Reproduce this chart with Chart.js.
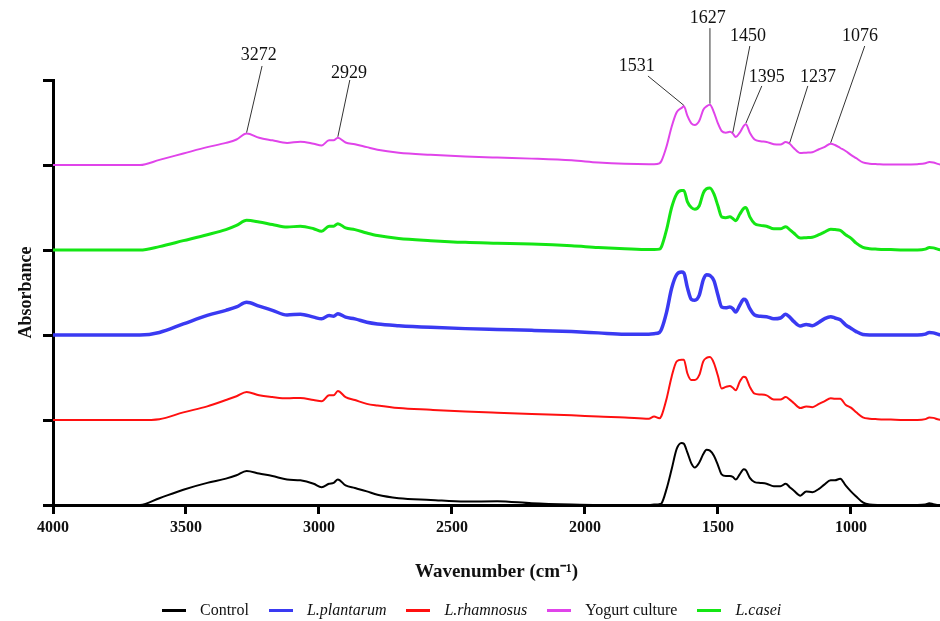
<!DOCTYPE html>
<html>
<head>
<meta charset="utf-8">
<script src="https://cdn.jsdelivr.net/npm/chart.js"></script>
<style>
  body { margin: 0; background: #fff; }
  #wrap { position: relative; width: 940px; height: 621px; }
  #legend {
    position: absolute; left: 162px; top: 600px; height: 20px;
    display: flex; align-items: center;
    font-family: "Liberation Serif", serif; font-size: 16px; color: #111;
  }
  #legend .item { display: flex; align-items: center; margin-right: 20px; }
  #legend .sw { display: inline-block; width: 24px; height: 3px; margin-right: 14px; }
  #legend i { font-style: italic; }
</style>
</head>
<body>
<div id="wrap">
  <canvas id="ftir" width="940" height="621"></canvas>
  <div id="legend"></div>
</div>
<script>
"use strict";

// wavenumbers (cm-1), shared by all spectra
var wavenumbers = [4000, 3800, 3673, 3600, 3510, 3420, 3350, 3310, 3272, 3225,
  3175, 3120, 3070, 3020, 2990, 2962, 2945, 2929, 2900, 2865,
  2820, 2780, 2700, 2580, 2450, 2330, 2200, 2050, 1950, 1850,
  1760, 1740, 1720, 1712, 1693, 1674, 1655, 1637, 1628, 1615,
  1600, 1587, 1570, 1555, 1543, 1530, 1515, 1500, 1486, 1470,
  1455, 1444, 1433, 1418, 1403, 1395, 1380, 1362, 1340, 1317,
  1290, 1265, 1245, 1230, 1215, 1190, 1168, 1145, 1120, 1100,
  1076, 1060, 1040, 1020, 1000, 980, 955, 930, 900, 850,
  800, 750, 720, 705, 690, 670, 650];

var xTicks = [4000, 3500, 3000, 2500, 2000, 1500, 1000];

// absorbance of each sample (before stacking)
var control = [0, 0, 0, 0.08, 0.18, 0.26, 0.31, 0.35, 0.40, 0.37,
  0.34, 0.30, 0.29, 0.25, 0.21, 0.25, 0.26, 0.30, 0.23, 0.20,
  0.16, 0.12, 0.08, 0.06, 0.04, 0.045, 0.02, 0.005, 0, 0,
  0, 0.005, 0.01, 0.02, 0.19, 0.42, 0.66, 0.73, 0.72, 0.62,
  0.49, 0.44, 0.50, 0.60, 0.65, 0.64, 0.58, 0.47, 0.36, 0.34,
  0.34, 0.33, 0.30, 0.36, 0.42, 0.41, 0.32, 0.27, 0.26, 0.25,
  0.22, 0.22, 0.25, 0.21, 0.17, 0.11, 0.16, 0.15, 0.19, 0.24,
  0.29, 0.29, 0.31, 0.23, 0.16, 0.10, 0.03, 0.005, 0, 0,
  0, 0, 0.005, 0.02, 0.01, 0, 0];

var rhamnosus = [0, 0, 0, 0.01, 0.09, 0.16, 0.235, 0.28, 0.33, 0.29,
  0.27, 0.255, 0.26, 0.235, 0.22, 0.29, 0.29, 0.34, 0.27, 0.235,
  0.19, 0.17, 0.14, 0.12, 0.10, 0.085, 0.07, 0.055, 0.04, 0.03,
  0.015, 0.04, 0.02, 0.05, 0.25, 0.51, 0.69, 0.71, 0.71, 0.55,
  0.47, 0.47, 0.53, 0.69, 0.73, 0.74, 0.67, 0.52, 0.37, 0.39,
  0.40, 0.38, 0.35, 0.45, 0.51, 0.50, 0.39, 0.31, 0.30, 0.29,
  0.24, 0.24, 0.27, 0.24, 0.20, 0.14, 0.16, 0.15, 0.19, 0.22,
  0.255, 0.25, 0.25, 0.18, 0.145, 0.09, 0.03, 0.015, 0.01, 0.005,
  0, 0, 0.01, 0.03, 0.025, 0.005, 0];

var plantarum = [0, 0, 0, 0.03, 0.13, 0.23, 0.29, 0.33, 0.385, 0.34,
  0.29, 0.235, 0.245, 0.21, 0.19, 0.23, 0.22, 0.25, 0.21, 0.19,
  0.15, 0.13, 0.11, 0.09, 0.075, 0.065, 0.055, 0.04, 0.025, 0.01,
  0.01, 0.015, 0.03, 0.07, 0.27, 0.55, 0.71, 0.74, 0.73, 0.56,
  0.42, 0.41, 0.47, 0.65, 0.71, 0.70, 0.64, 0.47, 0.33, 0.32,
  0.33, 0.31, 0.27, 0.35, 0.42, 0.41, 0.31, 0.235, 0.22, 0.215,
  0.19, 0.20, 0.245, 0.21, 0.16, 0.105, 0.125, 0.11, 0.15, 0.19,
  0.215, 0.20, 0.18, 0.12, 0.08, 0.04, 0.005, 0, 0, 0,
  0, 0, 0.01, 0.03, 0.025, 0.005, 0];

var casei = [0, 0, 0, 0.04, 0.11, 0.18, 0.24, 0.29, 0.35, 0.33,
  0.30, 0.27, 0.28, 0.25, 0.22, 0.28, 0.28, 0.31, 0.26, 0.24,
  0.20, 0.17, 0.135, 0.11, 0.09, 0.08, 0.07, 0.05, 0.03, 0.015,
  0.005, 0.005, 0.01, 0.04, 0.24, 0.50, 0.66, 0.70, 0.70, 0.57,
  0.50, 0.48, 0.52, 0.67, 0.72, 0.73, 0.66, 0.52, 0.39, 0.38,
  0.39, 0.37, 0.345, 0.42, 0.49, 0.50, 0.39, 0.31, 0.29, 0.28,
  0.25, 0.25, 0.275, 0.24, 0.20, 0.14, 0.145, 0.15, 0.18, 0.21,
  0.245, 0.24, 0.23, 0.18, 0.14, 0.08, 0.03, 0.015, 0.01, 0.005,
  0, 0, 0.01, 0.03, 0.025, 0.005, 0];

var yogurt = [0, 0, 0, 0.06, 0.135, 0.21, 0.26, 0.30, 0.37, 0.32,
  0.29, 0.26, 0.275, 0.25, 0.23, 0.29, 0.29, 0.32, 0.265, 0.245,
  0.21, 0.18, 0.145, 0.12, 0.10, 0.087, 0.075, 0.055, 0.03, 0.015,
  0.01, 0.01, 0.02, 0.05, 0.22, 0.45, 0.62, 0.67, 0.69, 0.58,
  0.49, 0.47, 0.52, 0.65, 0.69, 0.71, 0.62, 0.49, 0.40, 0.38,
  0.39, 0.37, 0.33, 0.38, 0.46, 0.48, 0.38, 0.30, 0.28, 0.27,
  0.245, 0.24, 0.27, 0.25, 0.20, 0.14, 0.145, 0.15, 0.185, 0.21,
  0.25, 0.235, 0.20, 0.165, 0.12, 0.08, 0.03, 0.015, 0.01, 0.005,
  0.005, 0.01, 0.02, 0.035, 0.03, 0.01, 0];

// peaks marked on the yogurt culture spectrum
var peakLabels = ["3272", "2929", "1531", "1627", "1450", "1395", "1237", "1076"];
var peakTargets = [3272, 2929, 1628, 1530, 1444, 1395, 1230, 1076];

// where each label sits (wavenumber, absorbance level) and where its leader line starts
var labelAt = [[3226, 5.29], [2887, 5.08], [1805, 5.165], [1538, 5.73],
  [1387, 5.52], [1316, 5.035], [1124, 5.035], [966, 5.52]];
var lineFrom = [[3214, 5.165], [2884, 5.0], [1763, 5.047], [1530, 5.61],
  [1380, 5.4], [1335, 4.93], [1162, 4.93], [948, 5.4]];

var series = [
  { name: "Control", italic: false, values: control, offset: 0, color: "#000000", width: 2 },
  { name: "L.plantarum", italic: true, values: plantarum, offset: 2, color: "#3a3af2", width: 3.5 },
  { name: "L.rhamnosus", italic: true, values: rhamnosus, offset: 1, color: "#ff1010", width: 2 },
  { name: "Yogurt culture", italic: false, values: yogurt, offset: 4, color: "#e044ea", width: 2 },
  { name: "L.casei", italic: true, values: casei, offset: 3, color: "#14e614", width: 3 }
];

var datasets = series.map(function (s) {
  return {
    label: s.name,
    data: wavenumbers.map(function (w, i) { return { x: w, y: s.values[i] + s.offset }; }),
    borderColor: s.color,
    borderWidth: s.width,
    pointRadius: 0,
    fill: false,
    cubicInterpolationMode: "monotone"
  };
});

var peakPlugin = {
  id: "peaks",
  afterDatasetsDraw: function (chart) {
    var ctx = chart.ctx;
    var x = chart.scales.x, y = chart.scales.y;
    ctx.save();
    ctx.strokeStyle = "#333";
    ctx.lineWidth = 1;
    ctx.fillStyle = "#111";
    ctx.font = '18px "Liberation Serif"';
    ctx.textAlign = "center";
    ctx.textBaseline = "middle";
    peakLabels.forEach(function (lab, i) {
      var idx = wavenumbers.indexOf(peakTargets[i]);
      var ex = x.getPixelForValue(peakTargets[i]);
      var ey = y.getPixelForValue(yogurt[idx] + 4) - 1;
      ctx.beginPath();
      ctx.moveTo(x.getPixelForValue(lineFrom[i][0]), y.getPixelForValue(lineFrom[i][1]));
      ctx.lineTo(ex, ey);
      ctx.stroke();
      ctx.fillText(lab, x.getPixelForValue(labelAt[i][0]), y.getPixelForValue(labelAt[i][1]));
    });
    ctx.restore();
  }
};

var axisFont = { family: "Liberation Serif", size: 16, weight: "bold" };

var ctx = document.getElementById("ftir").getContext("2d");
var myChart = new Chart(ctx, {
  type: "line",
  data: { datasets: datasets },
  options: {
    responsive: false,
    animation: false,
    layout: { padding: { top: 80, right: 0, bottom: 30, left: 0 } },
    plugins: { legend: { display: false }, tooltip: { enabled: false } },
    scales: {
      x: {
        type: "linear",
        reverse: true,
        min: 665,
        max: 4000,
        border: { color: "#000", width: 3 },
        grid: { drawOnChartArea: false, color: "#000", lineWidth: 3, tickLength: 9 },
        ticks: {
          color: "#111", font: axisFont, maxRotation: 0, padding: 4,
          callback: function (v) { return String(v); }
        },
        afterBuildTicks: function (scale) {
          scale.ticks = xTicks.map(function (v) { return { value: v }; });
        },
        title: {
          display: true,
          text: "Wavenumber (cm\u207B\u00B9)",
          color: "#111",
          font: { family: "Liberation Serif", size: 19, weight: "bold" },
          padding: { top: 4, bottom: 8 }
        },
        afterFit: function (scale) { scale.height = 86; }
      },
      y: {
        min: 0,
        max: 5,
        border: { color: "#000", width: 3 },
        grid: { drawOnChartArea: false, color: "#000", lineWidth: 3, tickLength: 10 },
        ticks: { stepSize: 1, display: false },
        title: {
          display: true,
          text: "Absorbance",
          color: "#111",
          font: { family: "Liberation Serif", size: 18, weight: "bold" },
          padding: { top: 16, bottom: 0 }
        },
        afterFit: function (scale) { scale.width = 53; }
      }
    }
  },
  plugins: [peakPlugin]
});

// legend below the plot
var legend = document.getElementById("legend");
series.forEach(function (s) {
  var item = document.createElement("span");
  item.className = "item";
  var sw = document.createElement("span");
  sw.className = "sw";
  sw.style.background = s.color;
  var txt = document.createElement(s.italic ? "i" : "span");
  txt.textContent = s.name;
  item.appendChild(sw);
  item.appendChild(txt);
  legend.appendChild(item);
});
</script>
</body>
</html>
